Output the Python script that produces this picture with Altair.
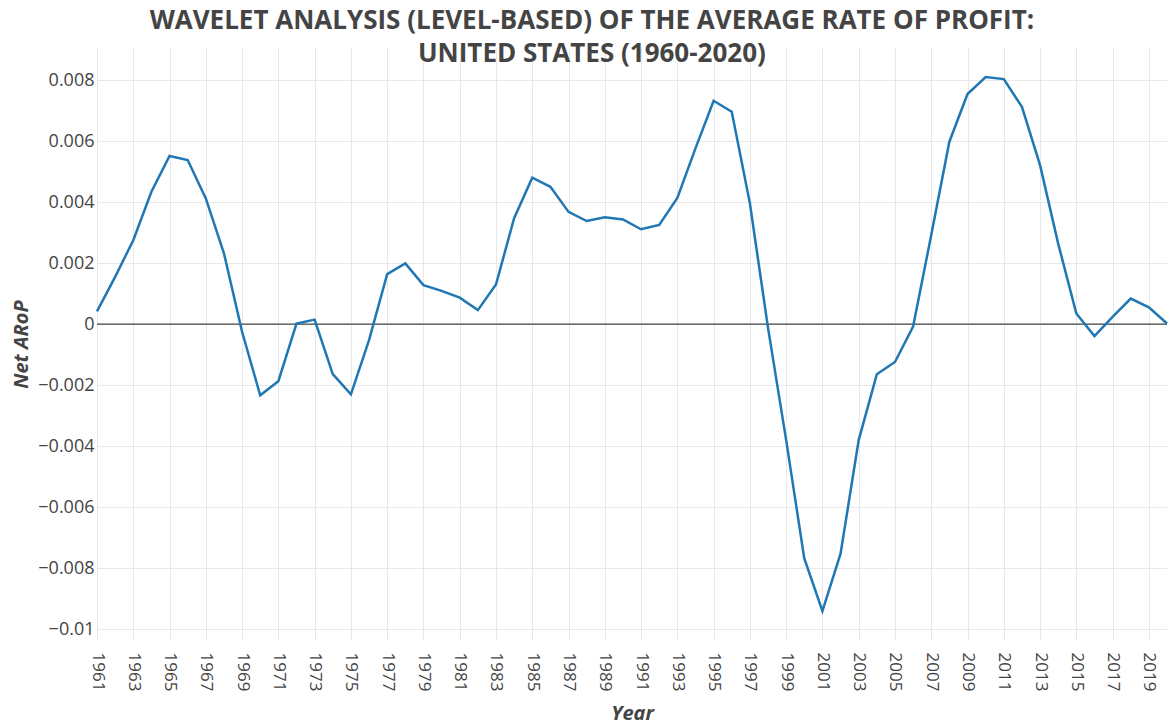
import altair as alt
import pandas as pd

years = list(range(1961, 2021))
arop = [
    0.00042, 0.00155, 0.00275, 0.00434, 0.00551, 0.00538, 0.00412, 0.00232, -0.00025, -0.00233,
    -0.00187, 0.00002, 0.00015, -0.00164, -0.00230, -0.00052, 0.00164, 0.00199, 0.00128, 0.00109,
    0.00087, 0.00046, 0.00130, 0.00347, 0.00480, 0.00450, 0.00368, 0.00338, 0.00350, 0.00343,
    0.00311, 0.00325, 0.00414, 0.00576, 0.00732, 0.00696, 0.00396, -0.00012, -0.00380, -0.00768,
    -0.00940, -0.00752, -0.00380, -0.00164, -0.00124, -0.00008, 0.00292, 0.00598, 0.00754, 0.00810,
    0.00803, 0.00712, 0.00521, 0.00264, 0.00035, -0.00039, 0.00024, 0.00084, 0.00055, 0.00002,
]
x_ticks = list(range(1961, 2020, 2))
y_ticks = [-0.01, -0.008, -0.006, -0.004, -0.002, 0, 0.002, 0.004, 0.006, 0.008]

df = pd.DataFrame({"Year": years, "AROP": arop})
FONT = "Open Sans"

x_enc = alt.X(
    "Year:Q",
    scale=alt.Scale(domain=[1961, 2020], nice=False, zero=False),
    axis=alt.Axis(
        values=x_ticks, format="d", labelAngle=90, title="Year",
        grid=True, gridColor="#e8e8e8", domain=False, ticks=False,
        labelFont=FONT, labelFontSize=17, labelColor="#444444", labelPadding=12,
        titleFont=FONT, titleFontSize=20, titleFontWeight="bold", titleFontStyle="italic",
        titleColor="#444444", titlePadding=13,
    ),
)
y_enc = alt.Y(
    "AROP:Q",
    scale=alt.Scale(domain=[-0.01035, 0.00905], nice=False, zero=False),
    axis=alt.Axis(
        values=y_ticks, format="~g", title="Net ARoP",
        grid=True, gridColor="#e8e8e8", domain=False, ticks=False,
        labelFont=FONT, labelFontSize=18, labelColor="#444444", labelPadding=3,
        titleFont=FONT, titleFontSize=20, titleFontWeight="bold", titleFontStyle="italic",
        titleColor="#444444", titlePadding=6,
    ),
)

line = alt.Chart(df).mark_line(color="#1f77b4", strokeWidth=2.5).encode(x=x_enc, y=y_enc)
zero = alt.Chart(pd.DataFrame({"z": [0]})).mark_rule(color="#444444", strokeWidth=1.3).encode(y="z:Q")

chart = alt.layer(zero, line).properties(
    width=1070,
    height=592,
    autosize=alt.AutoSizeParams(type="none"),
    padding={"left": 89, "top": 40, "right": 1, "bottom": 90},
    title=alt.TitleParams(
        text=["WAVELET ANALYSIS (LEVEL-BASED) OF THE AVERAGE RATE OF PROFIT:",
              "UNITED STATES (1960-2020)"],
        font=FONT, fontSize=26, fontWeight="bold", color="#444444",
        anchor="middle", frame="bounds", lineHeight=33, offset=6, dy=25,
    ),
).configure_view(stroke=None)

chart.save("out.html", embed_options={"renderer": "svg", "actions": False})
